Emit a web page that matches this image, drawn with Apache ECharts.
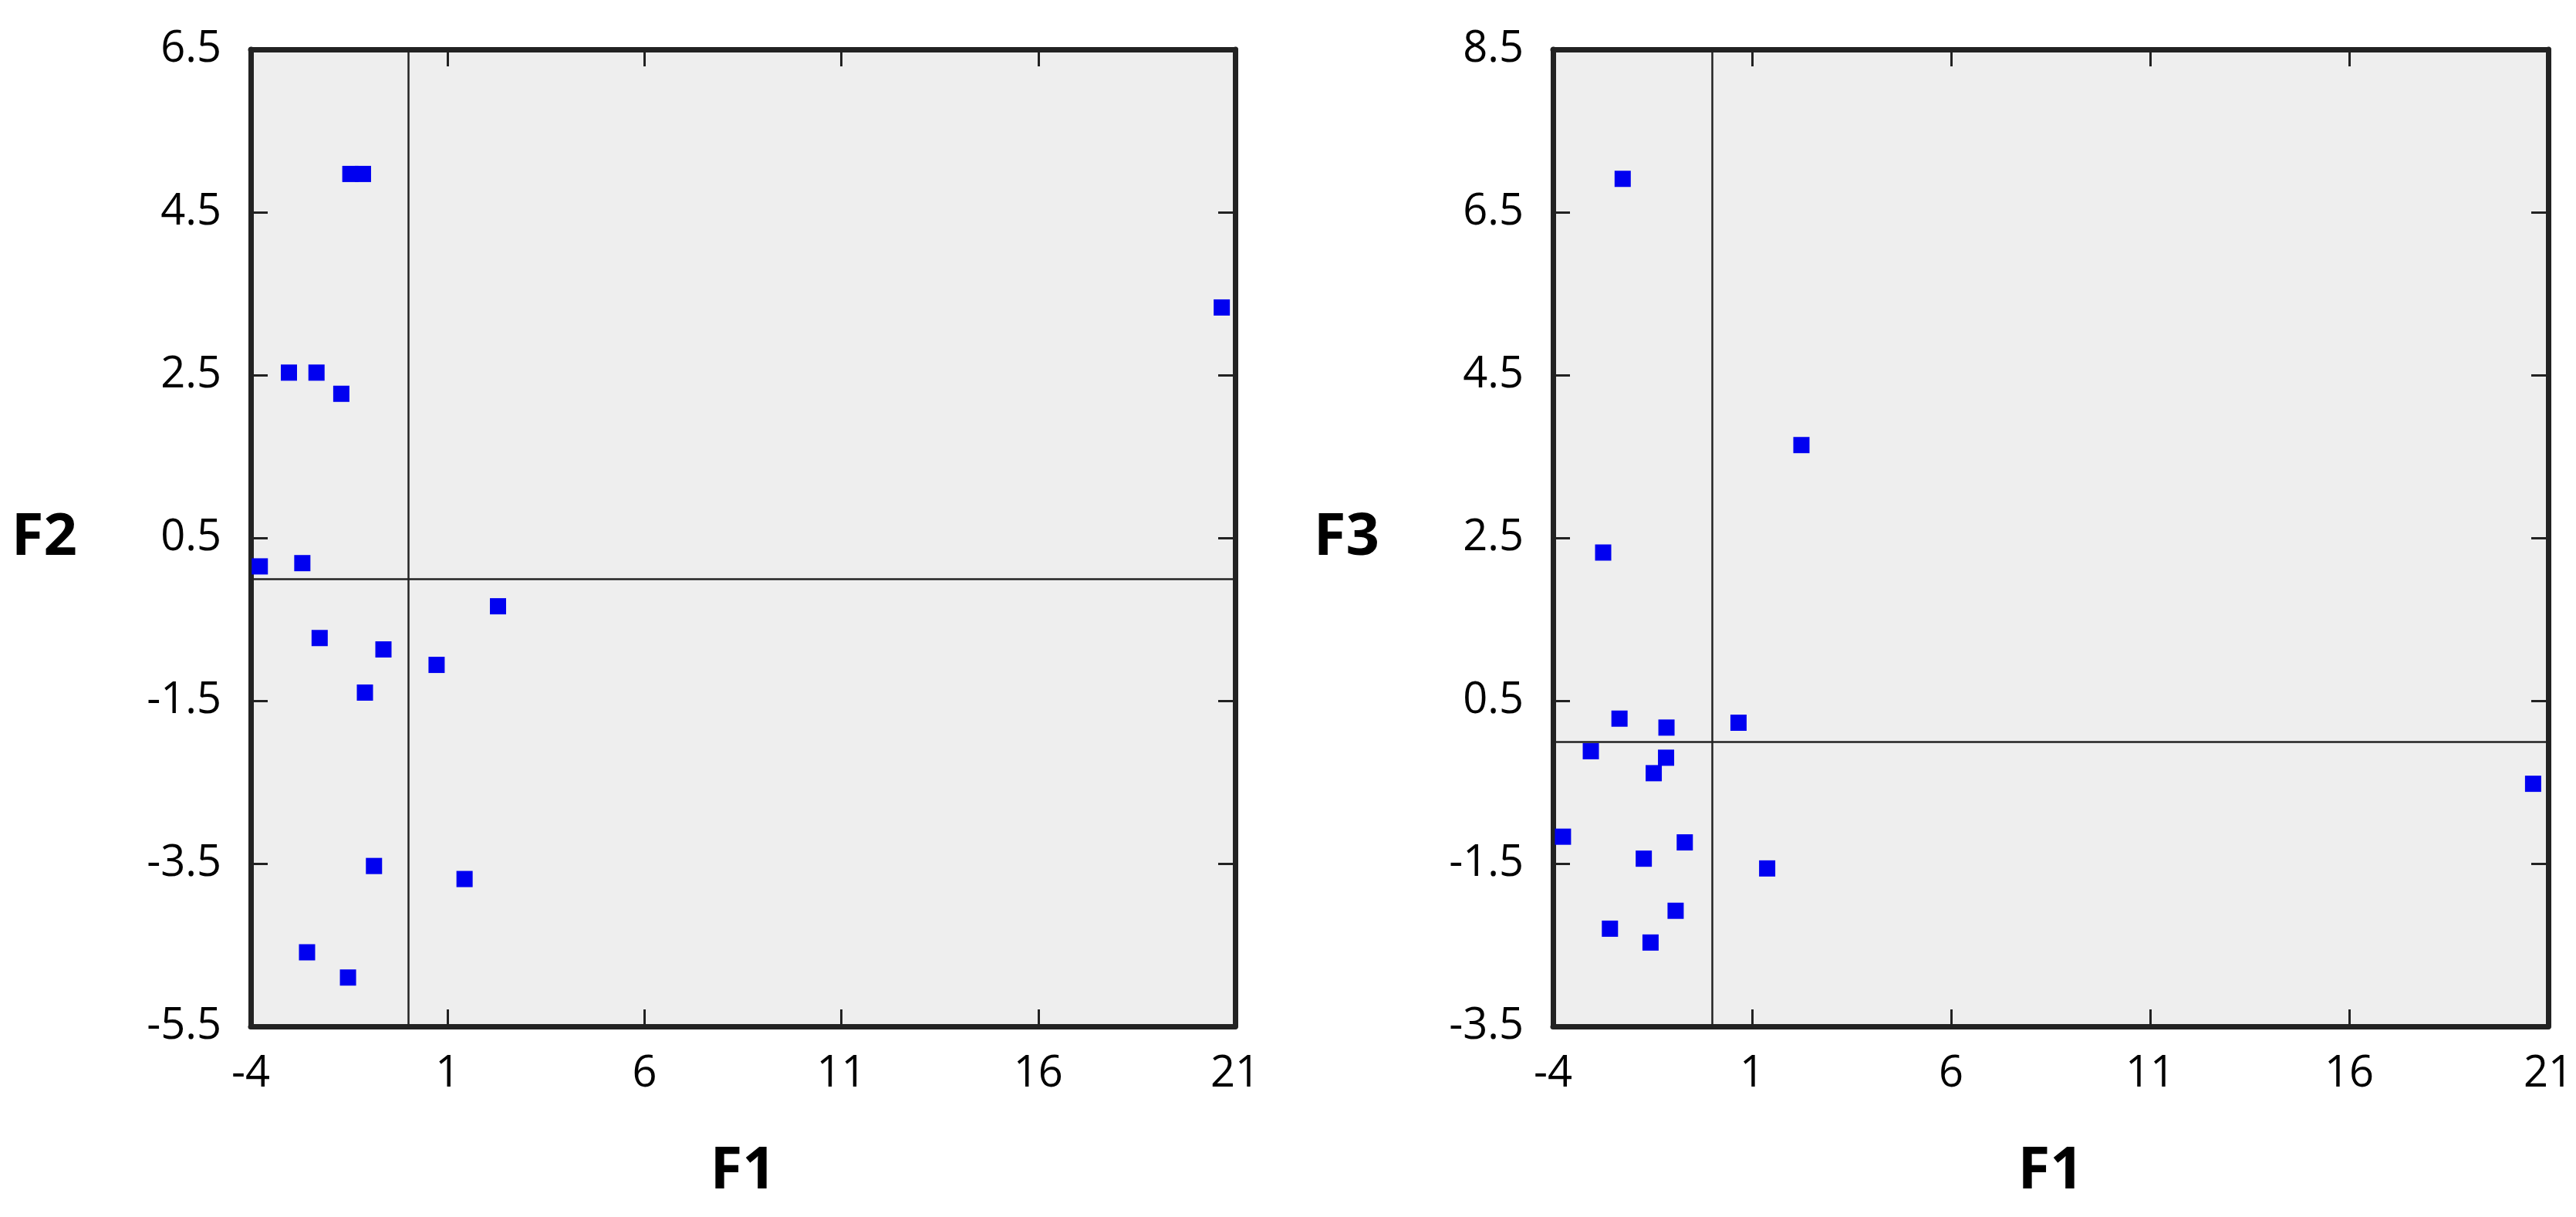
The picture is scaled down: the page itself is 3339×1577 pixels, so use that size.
<!DOCTYPE html>
<html>
<head>
<meta charset="utf-8">
<script src="https://cdn.jsdelivr.net/npm/echarts@6/dist/echarts.min.js"></script>
<style>
html, body { margin: 0; padding: 0; background: #fff; }
#chart { width: 3339px; height: 1577px; }
</style>
</head>
<body>
<div id="chart"></div>
<script>
// F1 / F2 散点
const f1Left = [-1.47, -1.15, 20.66, -3.03, -2.33, -1.70, -3.77, -2.69, 2.28, -2.25, -0.63, 0.72, -1.10, -0.87, 1.43, -2.57, -1.53];
const f2Vals = [4.97, 4.97, 3.33, 2.53, 2.53, 2.27, 0.15, 0.19, -0.34, -0.73, -0.87, -1.06, -1.40, -3.53, -3.69, -4.59, -4.90];
// F1 / F3 散点
const f1Right = [-2.25, 2.24, -2.74, -2.33, -1.15, 0.66, -3.05, -1.16, -1.47, 20.62, -3.75, -0.69, -1.72, 1.38, -0.92, -2.57, -1.55];
const f3Vals = [6.91, 3.64, 2.32, 0.28, 0.17, 0.23, -0.12, -0.20, -0.39, -0.52, -1.17, -1.24, -1.44, -1.56, -2.08, -2.30, -2.47];

const fontFamily = '"Open Sans", "Liberation Sans", sans-serif';
const labelStyle = { color: '#000', fontSize: 56, fontFamily: fontFamily };
const nameStyle = { color: '#000', fontSize: 76, fontWeight: 'bold', fontFamily: fontFamily };

function pair(list) {
    return list[0].map(function (x, i) { return [x, list[1][i]]; });
}

// 一个坐标轴（主轴带标签，副轴只画刻度）
function xAxisFor(gridIndex, main) {
    return {
        type: 'value', gridIndex: gridIndex, min: -4, max: 21, interval: 5,
        position: main ? 'bottom' : 'top',
        name: main ? 'F1' : '', nameLocation: 'middle', nameGap: 150, nameTextStyle: nameStyle,
        axisLine: { show: true, onZero: false, lineStyle: { color: '#222', width: 7 } },
        axisTick: { show: true, inside: true, length: 22, lineStyle: { color: '#222', width: 3 } },
        axisLabel: { show: main, margin: 34, ...labelStyle },
        splitLine: { show: false }
    };
}
function yAxisFor(gridIndex, main, min, max, name) {
    return {
        type: 'value', gridIndex: gridIndex, min: min, max: max, interval: 2,
        position: main ? 'left' : 'right',
        name: main ? name : '', nameLocation: 'middle', nameGap: 225, nameRotate: 0,
        nameTextStyle: { ...nameStyle, padding: [45, 0, 0, 0] },
        axisLine: { show: true, onZero: false, lineStyle: { color: '#222', width: 7 } },
        axisTick: { show: true, inside: true, length: 22, lineStyle: { color: '#222', width: 3 } },
        axisLabel: { show: main, margin: 38, ...labelStyle },
        splitLine: { show: false }
    };
}
function scatterFor(idx, data) {
    return {
        type: 'scatter', xAxisIndex: idx * 2, yAxisIndex: idx * 2,
        symbol: 'rect', symbolSize: 21,
        itemStyle: { color: '#0000f0', opacity: 1 },
        data: data,
        markLine: {
            silent: true, symbol: 'none', label: { show: false },
            lineStyle: { color: '#222', width: 2.5, type: 'solid' },
            data: [{ xAxis: 0 }, { yAxis: 0 }]
        }
    };
}

let chart = echarts.init(document.getElementById('chart'));
chart.setOption({
    backgroundColor: '#fff',
    animation: false,
    grid: [
        { left: 325, top: 64, width: 1276, height: 1266, show: true, backgroundColor: '#eeeeee', borderWidth: 0 },
        { left: 2013, top: 64, width: 1290, height: 1266, show: true, backgroundColor: '#eeeeee', borderWidth: 0 }
    ],
    xAxis: [xAxisFor(0, true), xAxisFor(0, false), xAxisFor(1, true), xAxisFor(1, false)],
    yAxis: [
        yAxisFor(0, true, -5.5, 6.5, 'F2'), yAxisFor(0, false, -5.5, 6.5, ''),
        yAxisFor(1, true, -3.5, 8.5, 'F3'), yAxisFor(1, false, -3.5, 8.5, '')
    ],
    series: [
        scatterFor(0, pair([f1Left, f2Vals])),
        scatterFor(1, pair([f1Right, f3Vals]))
    ]
});
</script>
</body>
</html>
